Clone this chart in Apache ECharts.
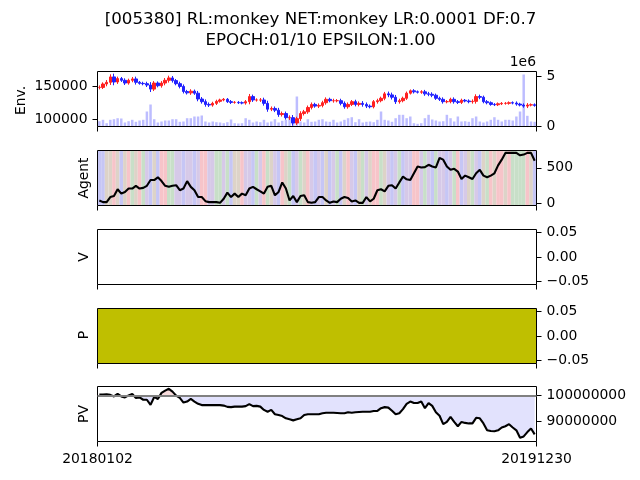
<!DOCTYPE html>
<html><head><meta charset="utf-8">
<script src="https://cdn.jsdelivr.net/npm/echarts@6/dist/echarts.min.js"></script>
<style>html,body{margin:0;padding:0;background:#fff}#c{width:640px;height:480px}</style>
</head><body><div id="c"></div>
<script>
const titleText = "[005380] RL:monkey NET:monkey LR:0.0001 DF:0.7\nEPOCH:01/10 EPSILON:1.00";
const dateLabels = ["20180102","20191230"];
const prices = [149000,154200,156800,165100,157300,162500,159900,155700,159900,162000,156800,155200,154700,152600,146400,155700,151600,155700,159900,163500,159400,154700,150500,142700,140600,143200,140100,131200,127100,122900,121900,124500,127600,129700,130700,127100,126000,126000,125500,125000,127100,134900,129700,129700,129700,124500,115600,116700,114100,107300,108900,102600,102600,94300,101000,108900,111500,118200,122900,120300,121400,125500,130700,128600,128600,128600,124500,119300,122900,127100,122900,124500,122900,120300,119300,127100,128600,132300,139100,137500,133900,127100,128600,132300,140100,143800,142200,141700,142200,139100,138500,137000,132300,130700,127100,127100,130700,127100,126000,129200,128100,127100,127600,134900,133900,127100,125500,122900,122400,123900,124500,124500,125500,125000,123400,121900,120300,121900,122400,121400];
const wicks = [3000,2500,3500,4000,5000,3000,2500,3000,2500,3000,3500,2000,2500,3000,4500,3000,2500,3000,3500,3500,3000,2500,3000,3000,2500,3000,2500,3500,3000,3500,3000,2500,2500,2000,2000,2000,2500,2000,2000,2000,2500,4000,3000,2500,3000,3500,4000,3000,3000,3500,3000,3000,3500,4000,3000,3500,3000,3000,3000,2500,3000,3000,3000,2500,3000,2500,3000,3000,3000,2500,3000,3000,3500,3000,2500,2500,3000,2500,3000,3500,3500,3500,3000,2500,2500,2000,2500,2000,2500,3000,3000,3000,2500,2500,3000,2500,2500,3000,2500,2500,2000,2500,3000,3500,3000,2500,2500,2000,2000,2000,2000,2000,2000,2000,2500,2000,2500,3000,2000,2000];
const volumes = [530000,670000,330000,670000,730000,830000,800000,400000,530000,670000,470000,600000,670000,1500000,2200000,730000,400000,500000,600000,600000,730000,730000,470000,500000,830000,830000,1000000,1000000,1100000,500000,400000,500000,430000,400000,330000,430000,700000,330000,300000,330000,830000,670000,400000,500000,430000,670000,400000,500000,730000,400000,570000,670000,1000000,500000,3000000,500000,400000,730000,470000,500000,670000,730000,500000,470000,670000,400000,500000,670000,830000,930000,430000,730000,400000,470000,500000,430000,670000,1500000,670000,600000,470000,830000,1170000,1170000,830000,1000000,330000,270000,330000,830000,1170000,700000,600000,500000,530000,1170000,830000,500000,1000000,500000,530000,470000,830000,1000000,500000,400000,500000,670000,930000,670000,500000,670000,670000,600000,1000000,1500000,5200000,1070000,500000,470000];
const agentValues = [36,12,12,84,99,195,133,157,205,205,244,205,215,244,326,326,365,311,244,229,244,253,181,205,311,229,181,84,84,26,12,12,12,2,60,147,84,133,84,133,109,205,229,195,166,133,229,244,109,157,292,205,36,99,12,99,109,12,2,12,84,84,36,2,22,12,60,84,70,22,36,2,2,84,22,60,181,195,166,244,253,205,292,374,336,326,422,519,505,509,543,519,505,640,616,519,471,485,447,340,389,365,340,422,471,389,365,389,422,534,616,712,712,712,712,678,688,712,712,601];
const actions = [1,1,4,4,0,4,1,4,0,2,4,0,2,3,1,4,1,0,0,2,2,3,3,1,3,3,1,3,0,0,3,3,2,2,3,2,1,4,4,0,3,3,1,2,3,0,2,4,3,1,0,4,2,1,3,2,4,0,3,1,3,1,4,1,3,2,1,4,0,3,1,4,2,3,4,0,0,2,4,3,1,3,2,1,3,3,0,0,3,2,3,1,2,3,3,1,3,2,0,1,3,4,2,3,1,4,2,0,4,0,0,4,0,2,2,2,2,0,4,1];
const pvValues = [100.4,100.4,100.5,100.3,99.7,100.7,99.7,99.3,100.1,100.7,99.1,99.3,98.4,98.4,96.4,99.5,98.7,101.1,102.0,102.7,101.6,100,99.1,97.3,97.7,98.7,97.7,96.8,96.3,96.3,96.3,96.3,96.3,96.3,96.1,95.6,95.5,95.7,95.7,95.7,95.9,96.7,95.9,96,95.7,94.4,93.7,94.4,92.7,92.4,92,91.1,90.7,90.3,90.7,91.1,92.4,92.7,92.7,92.7,92.7,93.1,93.3,93.3,93.3,93.2,93.1,93.1,93.5,93.3,93.5,93.6,93.7,93.7,93.7,94,94,95.1,95.5,95.3,94.1,92.7,93.1,94.7,96.8,97.7,97.1,97.1,97.7,95.1,97.1,96,93.5,92.1,88.8,89.7,91.7,89.7,88,89.7,89.3,89.1,89.1,91.3,91.1,89.1,86.4,86.1,86,86.4,87.5,88,88.8,87.5,86.4,83.5,84,85.7,87.1,84.8].map(v => Math.round(v * 1e6));
const baseline = 100000000;
const priceTicks = [100000,150000], volumeTicks = [0,5000000], agentTicks = [0,500];
const zeroTicks = [-0.05,0,0.05], pvTicks = [90000000,100000000];
const actionColors = ['#f7c4c9','#c6c6f5','#c8dfc8','#d6c9e8','#ddd3c8'];

const FONT = 'DejaVu Sans', FS = 13.9;
const L = 97.5, R = 103.5, H = 55;
const tops = [71.5, 150.5, 229.5, 308.5, 386.5];
const cats = prices.map((_, i) => i);
const ohlc = prices.map((p, i) => { const o = i ? prices[i-1] : p; return [o, p, Math.min(o,p)-wicks[i], Math.max(o,p)+wicks[i]]; });

const grid = tops.map((t, i) => ({left:L, right:R, top:t, height:H, show:true, borderColor:'#000', borderWidth:1,
  backgroundColor: i === 3 ? '#bfbf00' : 'transparent', z:3}));
const catAxes = tops.map((_, i) => ({type:'category', gridIndex:i, data:cats, show:false, boundaryGap:true}));
const tickAxes = tops.map((_, i) => ({type:'value', gridIndex:i, min:0, max:1, position:'bottom',
  axisLine:{show:false, onZero:false}, splitLine:{show:false},
  axisTick:{show:true, length:5, customValues:[0,1], lineStyle:{color:'#000', width:1}},
  axisLabel:{show:i===4, customValues:[0,1], margin:11, color:'#000', fontFamily:FONT, fontSize:FS,
    formatter:v => v === 0 ? dateLabels[0] : dateLabels[1], hideOverlap:false, showMinLabel:true, showMaxLabel:true}}));
function yA(gridIndex, position, min, max, ticks, fmt) {
  return {type:'value', gridIndex, position, min, max, scale:true, splitLine:{show:false}, axisLine:{show:false, onZero:false},
    axisTick:{show:true, length:5, customValues:ticks, lineStyle:{color:'#000', width:1}},
    axisLabel:{customValues:ticks, margin:10, color:'#000', fontFamily:FONT, fontSize:FS, formatter:fmt || (v => String(v)), hideOverlap:false}};
}
const yAxis = [
  yA(0,'left',89000,173400,priceTicks),
  yA(0,'right',0,5500000,volumeTicks, v => String(v/1e6)),
  yA(1,'right',-36,746,agentTicks),
  {type:'value', gridIndex:1, min:0, max:1, show:false},
  yA(2,'right',-0.056,0.056,zeroTicks, v => v.toFixed(2).replace('-','\u2212')),
  yA(3,'right',-0.056,0.056,zeroTicks, v => v.toFixed(2).replace('-','\u2212')),
  yA(4,'right',82000000,103600000,pvTicks)
];
const series = [
  {type:'bar', xAxisIndex:0, yAxisIndex:1, data:volumes, barWidth:2.5, itemStyle:{color:'rgba(0,0,255,0.26)'}, z:1, silent:true},
  {type:'candlestick', xAxisIndex:0, yAxisIndex:0, data:ohlc, barWidth:3, z:2,
   itemStyle:{color:'#ff2020', color0:'#2020ff', borderColor:'#ff2020', borderColor0:'#2020ff', borderWidth:1}},
  {type:'bar', xAxisIndex:1, yAxisIndex:3, barWidth:'100%', z:1, silent:true,
   data:actions.map(a => ({value:1, itemStyle:{color:actionColors[a]}}))},
  {type:'line', xAxisIndex:1, yAxisIndex:2, data:agentValues, symbol:'none', lineStyle:{color:'#000', width:2.1}, z:2},
  {type:'line', xAxisIndex:4, yAxisIndex:6, data:pvValues, symbol:'none', z:2, lineStyle:{color:'#000', width:2.1},
   areaStyle:{origin:baseline, opacity:1, color:new echarts.graphic.LinearGradient(0,386.5,0,441.5,[
     {offset:0,color:'#f8dcdc'},{offset:0.167,color:'#f8dcdc'},{offset:0.167,color:'#e2e2fd'},{offset:1,color:'#e2e2fd'}],true)},
   markLine:{silent:true, symbol:'none', label:{show:false}, animation:false,
     lineStyle:{color:'#808080', width:2.1, type:'solid'}, data:[{yAxis:baseline}]}}
];
const sideLabel = (text, x, y) => ({type:'text', x, y, rotation:Math.PI/2,
  style:{text, fontFamily:FONT, fontSize:FS, fill:'#000', align:'center', verticalAlign:'middle'}});
const chart = echarts.init(document.getElementById('c'), null, {renderer:'canvas'});
chart.setOption({
  animation:false, backgroundColor:'#fff',
  title:{text:titleText, left:315.5, top:4, textAlign:'center', textStyle:{fontFamily:FONT, fontSize:16.7, fontWeight:'normal', color:'#000', lineHeight:21, align:'center'}},
  grid, xAxis:[...catAxes, ...tickAxes], yAxis, series,
  graphic:[
    sideLabel('Env.',21.5,100.5), sideLabel('Agent',84,178), sideLabel('V',84,257), sideLabel('P',84,335), sideLabel('PV',84,414),
    {type:'text', x:536, y:62.5, style:{text:'1e6', fontFamily:FONT, fontSize:FS, fill:'#000', align:'right', verticalAlign:'middle'}}
  ]
});
</script></body></html>
